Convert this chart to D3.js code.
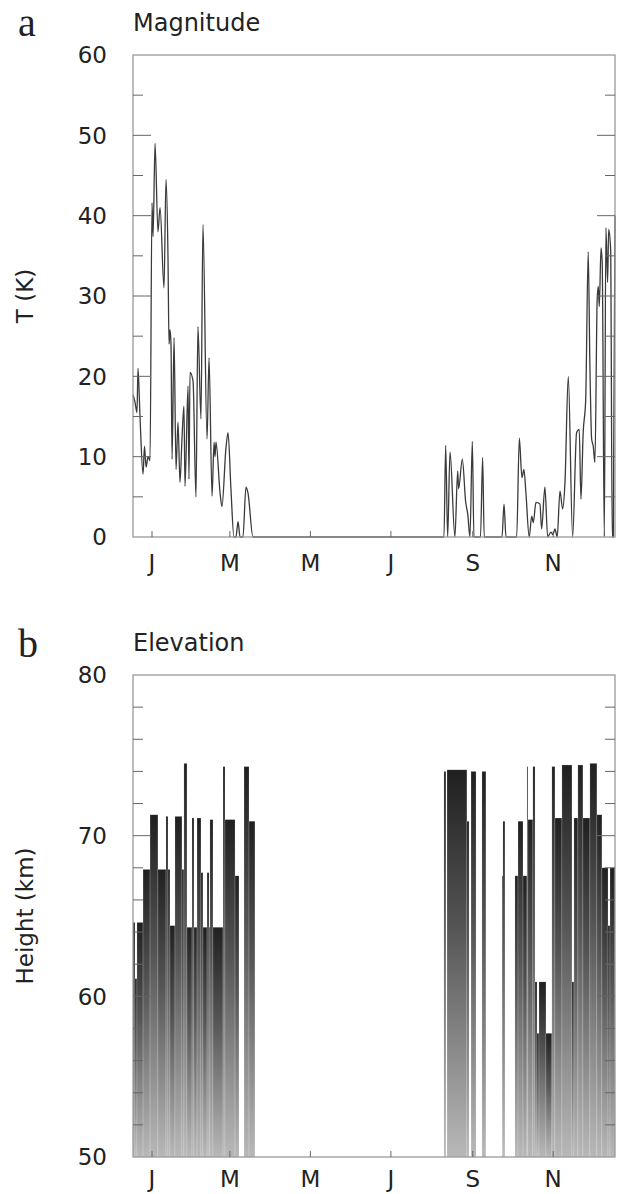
<!DOCTYPE html>
<html>
<head>
<meta charset="utf-8">
<script src="https://cdn.jsdelivr.net/npm/d3@7"></script>
<style>
  body { margin: 0; background: #fff; }
  text { font-family: "DejaVu Sans", "Liberation Sans", sans-serif; fill: #222; }
</style>
</head>
<body>
<svg id="chart" width="617" height="1194"></svg>
<script>
// month ticks, day of year (Jan 1 = 0)
var monthDays = [0, 59, 120, 181, 243, 304];
var monthLabels = ["J", "M", "M", "J", "S", "N"];

// panel a: magnitude T (K) vs day
var tDay = [-14.4, -12.9, -11.4, -10.6, -9.1, -6.8, -5.7, -4.5, -3.0, -1.5,
  0, 0.8, 2.3, 4.5, 6.1, 9.1, 10.6, 12.1, 12.9, 13.6, 14.4, 15.2, 16.7, 18.2,
  19.7, 21.2, 22.7, 24.2, 25, 27.3, 28, 28.8, 31.1, 33.3, 34.8, 37.1, 38.6,
  41.7, 43.2, 45.5, 47, 47.7, 48.5, 51.5, 53, 56, 57.6, 59.8, 62.1, 63.6, 65.2,
  66.7, 68.9, 71.2, 72.7, 76.5,
  221.2, 222.5, 224, 225.8, 229.5, 231.6, 232.3, 235.1, 237.7, 239.2, 240.9,
  242.7, 243.9, 246, 248.9, 250.5, 251.7, 265.2, 266.7, 268.2, 276.3, 278.3,
  280.3, 281.8, 283.3, 285.8, 287.7, 288.9, 290.9, 293.9, 295.2, 297.7, 299.8,
  302.3, 303.8, 305.3, 307, 309.1, 311.1, 312.9, 315.4, 318.7, 321.7, 323.7,
  325, 326.7, 328.6, 330.5, 331.8, 333.1, 334.3, 335.6, 337.3, 338.1, 338.9,
  340.2, 341.1, 342.7, 343.9, 345.2, 346, 347.5, 348.7, 349.5, 350.8];
var tKelvin = [17.7, 16.8, 15.5, 21, 15, 7.8, 11.3, 8.7, 10, 9.5,
  41.6, 37.4, 49, 38, 41, 31, 44.5, 35, 24, 25.8, 24, 9.7, 24.8, 8.4,
  14.3, 6.8, 12.2, 16.3, 6.3, 18.8, 7.2, 20.5, 19.4, 5, 26.2, 14.7, 38.9,
  12.2, 22.3, 5.1, 11.8, 10, 11.8, 5.6, 3.8, 11, 13, 6, 0, 0, 1.9,
  0, 0, 6.2, 5.5, 0,
  0, 11.4, 0, 10.6, 0, 8.2, 6, 9.7, 4.3, 2.9, 0,
  11.9, 0, 0, 0, 9.9, 0, 0, 4.1, 0, 0, 12.3,
  7.4, 8.4, 5.5, 0, 2.6, 1.8, 4.3, 4.1, 1, 6.2, 0,
  0.6, 0.3, 1, 0, 5.7, 3.5, 6.8, 20, 0, 13, 13.4,
  4.7, 13, 17.1, 35.5, 21.2, 12.2, 11.3, 9.3, 29.6, 31.2, 28.7,
  36, 34.2, 0, 38.5, 31.7, 38.3, 35.8, 0, 0, 40];

// panel b: elevation (km), one block per run of days
var elevFrom = [-14.4, -12.9, -11.4, -6.8, -1.5, 4.5, 10.6, 12.1, 13.6, 17.4,
  22.7, 24.2, 26.5, 30.3, 31.8, 34.1, 37.1, 38.6, 41.7, 43.2, 43.9, 46.2,
  53.8, 55.3, 62.9, 69.7, 73.5,
  221.2, 223.5, 238.6, 241.7, 250, 265.2, 265.9, 275, 277.3, 281.1, 284.1,
  284.8, 288.6, 290.2, 291.7, 293.2, 298.5, 303, 305.3, 310.6, 318.2, 319.7,
  322.7, 326.5, 331.8, 337.1, 340.9, 345.5, 347];
var elevTo = [-12.9, -11.4, -6.8, -1.5, 4.5, 10.6, 12.1, 13.6, 17.4, 22.7,
  24.2, 26.5, 30.3, 31.8, 34.1, 37.1, 38.6, 41.7, 43.2, 43.9, 46.2, 53.8,
  55.3, 62.9, 65.9, 73.5, 78,
  222.7, 238.6, 240.2, 245.5, 253, 265.9, 267.4, 277.3, 281.1, 284.1, 284.8,
  288.6, 290.2, 291.7, 293.2, 298.5, 303, 305.3, 310.6, 318.2, 319.7, 322.7,
  326.5, 331.8, 337.1, 340.9, 345.5, 347, 350.8];
var elevKm = [64.6, 61.1, 64.6, 67.9, 71.3, 67.9, 71.2, 67.9, 64.4, 71.2,
  67.9, 74.5, 64.3, 71.1, 64.3, 71.1, 67.7, 64.3, 67.7, 64.3, 71.0, 64.3,
  74.3, 71.0, 67.5, 74.3, 70.9,
  74.0, 74.1, 70.9, 74.0, 74.0, 67.5, 70.9, 67.5, 70.9, 67.5, 74.3,
  71.0, 74.3, 60.9, 57.7, 60.9, 57.7, 74.3, 71.1, 74.4, 60.9, 71.1,
  74.4, 71.1, 74.5, 71.3, 68.0, 64.4, 68.0];

var svg = d3.select("#chart");
var left = 133, right = 615;

var x = d3.scaleLinear().domain([-14.4, 350.8]).range([left, right]);

var defs = svg.append("defs");
var grad = defs.append("linearGradient").attr("id", "barGrad")
  .attr("x1", 0).attr("y1", 0).attr("x2", 0).attr("y2", 1);
grad.append("stop").attr("offset", "0%").attr("stop-color", "#202020");
grad.append("stop").attr("offset", "40%").attr("stop-color", "#545454");
grad.append("stop").attr("offset", "100%").attr("stop-color", "#b8b8b8");

function drawFrame(g, y, top, bottom, major, minor, labelGap) {
  g.append("rect")
    .attr("x", left).attr("y", top)
    .attr("width", right - left).attr("height", bottom - top)
    .attr("fill", "none").attr("stroke", "#999").attr("stroke-width", 1.3);
  var dom = y.domain();
  var ticks = d3.range(dom[0], dom[1] + 0.001, minor);
  ticks.forEach(function(v){
    if (v == dom[0] || v == dom[1]) return;
    var isMajor = Math.abs(v % major) < 0.001;
    var len = isMajor ? 18 : 10;
    g.append("line").attr("x1", left).attr("x2", left + len)
      .attr("y1", y(v)).attr("y2", y(v)).attr("stroke", "#666").attr("stroke-width", 1);
    g.append("line").attr("x1", right - len).attr("x2", right)
      .attr("y1", y(v)).attr("y2", y(v)).attr("stroke", "#666").attr("stroke-width", 1);
  });
  d3.range(dom[0], dom[1] + 0.001, major).forEach(function(v){
    g.append("text").attr("x", 107).attr("y", y(v))
      .attr("text-anchor", "end").attr("dy", "0.36em")
      .style("font-size", "23px").text(v);
  });
  monthDays.forEach(function(d, i){
    g.append("line").attr("x1", x(d)).attr("x2", x(d))
      .attr("y1", bottom).attr("y2", bottom - 6).attr("stroke", "#666");
    g.append("text").attr("x", x(d)).attr("y", bottom + labelGap)
      .attr("text-anchor", "middle").style("font-size", "23px").text(monthLabels[i]);
  });
}

// ---------- panel a ----------
var ga = svg.append("g");
var yA = d3.scaleLinear().domain([0, 60]).range([537, 55]);

var lineData = tDay.map(function(d, i){ return [d, tKelvin[i]]; });
var line = d3.line().curve(d3.curveMonotoneX)
  .x(function(d){ return x(d[0]); }).y(function(d){ return yA(d[1]); });
ga.append("path").datum(lineData)
  .attr("d", line).attr("fill", "none")
  .attr("stroke", "#3a3a3a").attr("stroke-width", 1.3).attr("stroke-linejoin", "round");

drawFrame(ga, yA, 55, 537, 10, 5, 34);

ga.append("text").attr("x", 18).attr("y", 36)
  .style("font-family", "'Liberation Serif', 'DejaVu Serif', serif").style("font-size", "40px").text("a");
ga.append("text").attr("x", 133).attr("y", 31).style("font-size", "24px").text("Magnitude");
ga.append("text").attr("transform", "translate(33,296) rotate(-90)")
  .attr("text-anchor", "middle").style("font-size", "23px").text("T (K)");

// ---------- panel b ----------
var gb = svg.append("g");
var yB = d3.scaleLinear().domain([50, 80]).range([1157, 675]);

gb.selectAll("rect.bar")
  .data(elevKm)
  .enter()
  .append("rect")
  .attr("class", "bar")
  .attr("x", function(d, i){ return x(elevFrom[i]); })
  .attr("width", function(d, i){ return Math.max(0.8, x(elevTo[i]) - x(elevFrom[i])); })
  .attr("y", function(d){ return yB(d); })
  .attr("height", function(d){ return yB(50) - yB(d); })
  .attr("fill", "url(#barGrad)")
  .attr("stroke", "rgba(255,255,255,0.35)")
  .attr("stroke-width", 0.5);

drawFrame(gb, yB, 675, 1157, 10, 2, 30);

gb.append("text").attr("x", 18).attr("y", 657)
  .style("font-family", "'Liberation Serif', 'DejaVu Serif', serif").style("font-size", "40px").text("b");
gb.append("text").attr("x", 133).attr("y", 651).style("font-size", "24px").text("Elevation");
gb.append("text").attr("transform", "translate(33,916) rotate(-90)")
  .attr("text-anchor", "middle").style("font-size", "23px").text("Height (km)");
</script>
</body>
</html>
